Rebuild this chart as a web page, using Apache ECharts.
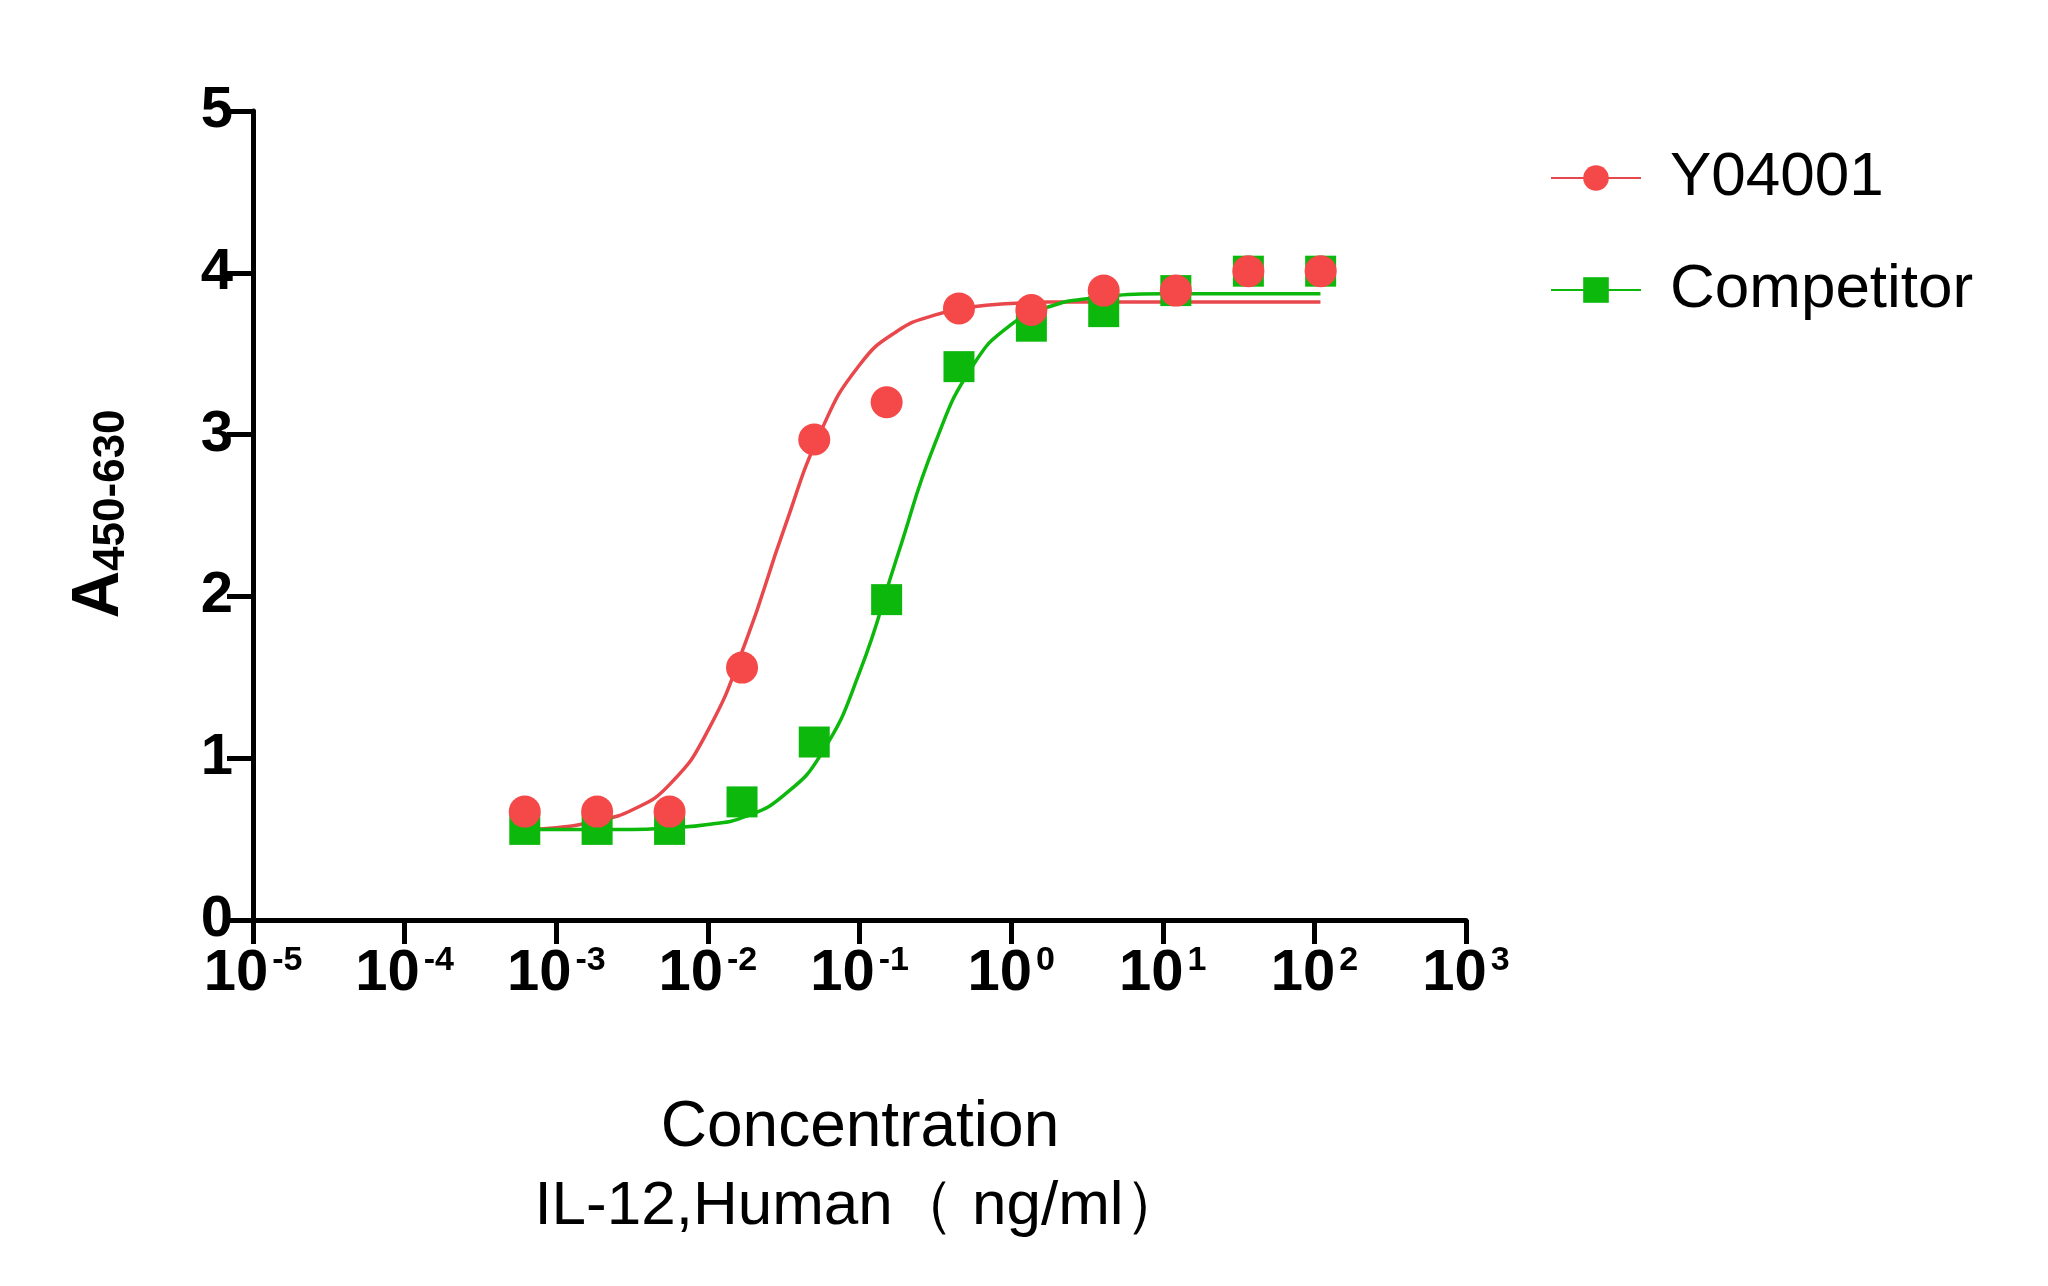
<!DOCTYPE html><html><head><meta charset="utf-8">
<script src="https://cdn.jsdelivr.net/npm/echarts@6/dist/echarts.min.js"></script>
<style>html,body{margin:0;background:#fff}#c{width:2048px;height:1286px}</style></head><body><div id="c"></div><script>
const concentrations=[6.2e-4,1.86e-3,5.59e-3,1.68e-2,5.03e-2,0.151,0.453,1.36,4.08,12.2,36.7,110];
const y04001=[0.67,0.67,0.67,1.56,2.97,3.20,3.78,3.77,3.89,3.89,4.01,4.01];
const competitor=[0.56,0.56,0.56,0.73,1.10,1.98,3.42,3.67,3.76,3.89,4.01,4.01];
const curveLogX=[-3.21,-3.0,-2.75,-2.5,-2.25,-2.0,-1.75,-1.5,-1.25,-1.0,-0.75,-0.5,-0.25,0,0.25,0.5,1.0,1.5,2.04];
const redCurve=[0.56,0.57,0.61,0.68,0.84,1.17,1.72,2.41,3.03,3.43,3.64,3.74,3.79,3.81,3.82,3.82,3.82,3.82,3.82];
const greenCurve=[0.56,0.56,0.56,0.56,0.57,0.59,0.64,0.77,1.03,1.53,2.25,2.95,3.43,3.68,3.79,3.84,3.87,3.87,3.87];
const RED='#F54848',GREEN='#0DB80D';
const ch=echarts.init(document.getElementById('c'));
const pair=(xs,ys)=>xs.map((x,i)=>[x,ys[i]]);
const font='Arial, Liberation Sans, sans-serif';
ch.setOption({
 animation:false,
 grid:{left:253,top:111,width:1213,height:809},
 xAxis:{type:'log',logBase:10,min:1e-5,max:1e3,
  axisLine:{lineStyle:{color:'#000',width:5}},
  axisTick:{length:24,lineStyle:{color:'#000',width:5}},
  minorTick:{show:false},splitLine:{show:false},
  axisLabel:{margin:24,fontFamily:font,fontWeight:'bold',fontSize:58,color:'#000',
   formatter:v=>'10{s|'+Math.round(Math.log10(v))+'}',
   rich:{s:{fontSize:34,fontWeight:'bold',fontFamily:font,verticalAlign:'top',padding:[0,0,26,4]}}}},
 yAxis:{type:'value',min:0,max:5,interval:1,
  axisLine:{show:true,lineStyle:{color:'#000',width:5}},
  axisTick:{show:true,length:26,lineStyle:{color:'#000',width:5}},
  splitLine:{show:false},
  axisLabel:{margin:20,fontFamily:font,fontWeight:'bold',fontSize:58,color:'#000'}},
 legend:{orient:'vertical',left:1545,top:142,itemWidth:90,itemHeight:32,itemGap:50,
  textStyle:{fontFamily:font,fontSize:62,color:'#000',padding:[0,0,0,24]},
  data:['Y04001','Competitor']},
 graphic:[
  {type:'text',x:860,y:1128,style:{text:'Concentration',fontFamily:font,fontSize:64,fill:'#000',align:'center',verticalAlign:'middle'}},
  {type:'text',x:860,y:1207,style:{text:'IL-12,Human（ ng/ml）',fontFamily:font,fontSize:62,fill:'#000',align:'center',verticalAlign:'middle'}},
  {type:'text',x:100,y:514,rotation:Math.PI/2,style:{text:'{a|A}{s|450-630}',align:'center',verticalAlign:'middle',
    rich:{a:{fontFamily:font,fontWeight:'bold',fontSize:66,fill:'#000'},s:{fontFamily:font,fontWeight:'bold',fontSize:44,fill:'#000',padding:[24,0,0,0]}}}}
 ],
 series:[
  {name:'Y04001',type:'line',data:pair(curveLogX.map(v=>Math.pow(10,v)),redCurve),smooth:true,showSymbol:false,symbol:'circle',symbolSize:32,
   lineStyle:{color:'#E8474C',width:3.5},itemStyle:{color:RED},z:2},
  {name:'Competitor',type:'line',data:pair(curveLogX.map(v=>Math.pow(10,v)),greenCurve),smooth:true,showSymbol:false,symbol:'rect',symbolSize:30,
   lineStyle:{color:GREEN,width:3.5},itemStyle:{color:GREEN},z:2},
  {name:'Competitor',type:'scatter',data:pair(concentrations,competitor),symbol:'rect',symbolSize:31,itemStyle:{color:GREEN,opacity:1},z:3},
  {name:'Y04001',type:'scatter',data:pair(concentrations,y04001),symbol:'circle',symbolSize:32,itemStyle:{color:RED,opacity:1},z:4}
 ]
});
</script></body></html>
